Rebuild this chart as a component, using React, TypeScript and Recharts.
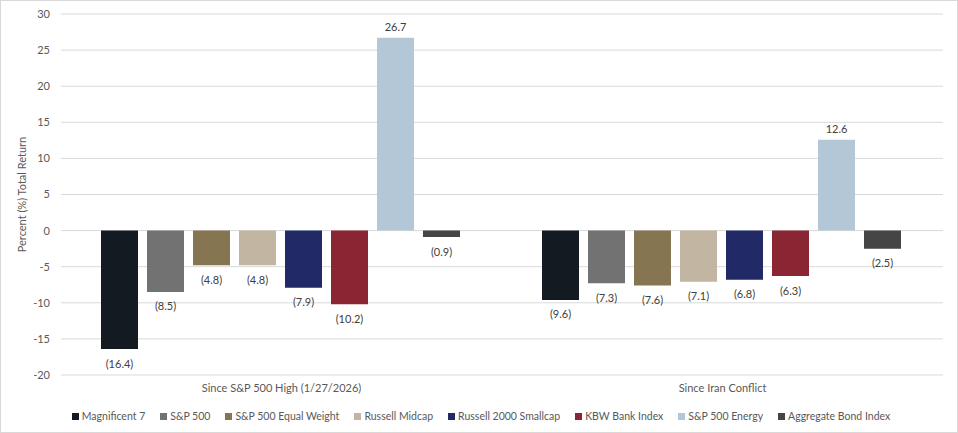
import React from 'react';
import { BarChart, Bar, XAxis, YAxis, CartesianGrid, Legend, LabelList } from 'recharts';

const periods = ['Since S&P 500 High (1/27/2026)', 'Since Iran Conflict'];
const seriesNames = [
  'Magnificent 7',
  'S&P 500',
  'S&P 500 Equal Weight',
  'Russell Midcap',
  'Russell 2000 Smallcap',
  'KBW Bank Index',
  'S&P 500 Energy',
  'Aggregate Bond Index',
];
const seriesColors = ['#131A22', '#717271', '#857550', '#C2B6A3', '#212A66', '#8A2533', '#B4C7D6', '#444545'];
const magnificent7 = [-16.4, -9.6];
const sp500 = [-8.5, -7.3];
const sp500EqualWeight = [-4.8, -7.6];
const russellMidcap = [-4.8, -7.1];
const russell2000 = [-7.9, -6.8];
const kbwBank = [-10.2, -6.3];
const sp500Energy = [26.7, 12.6];
const aggregateBond = [-0.9, -2.5];
const yTicks = [-20, -15, -10, -5, 0, 5, 10, 15, 20, 25, 30];

const seriesValues = [magnificent7, sp500, sp500EqualWeight, russellMidcap, russell2000, kbwBank, sp500Energy, aggregateBond];
const keys = seriesNames.map((_, i) => `s${i}`);

const data = periods.map((period, p) => {
  const row: Record<string, string | number> = { period };
  seriesValues.forEach((vals, i) => {
    row[keys[i]] = vals[p];
  });
  return row;
});

const FONT = 'Lato, "Open Sans", sans-serif';
const TEXT = '#595959';

const fmt = (v: number) => (v < 0 ? `(${Math.abs(v).toFixed(1)})` : v.toFixed(1));

const ValueLabel = (props: any) => {
  const { x, y, width, height, value } = props;
  const top = Math.min(y, y + height);
  const bottom = Math.max(y, y + height);
  const cy = value < 0 ? bottom + 14 : top - 11;
  return (
    <text x={x + width / 2} y={cy} textAnchor="middle" dominantBaseline="central" fill="#404040" fontSize={11} fontFamily={FONT}>
      {fmt(value)}
    </text>
  );
};

const LegendContent = () => (
  <div style={{ display: 'flex', justifyContent: 'center', gap: 15, paddingLeft: 18, fontFamily: FONT, fontSize: 10.5, color: TEXT }}>
    {seriesNames.map((name, i) => (
      <div key={name} style={{ display: 'flex', alignItems: 'center' }}>
        <span style={{ width: 7, height: 7, background: seriesColors[i], marginRight: 3, display: 'inline-block' }} />
        <span>{name}</span>
      </div>
    ))}
  </div>
);

export default function App() {
  return (
    <div style={{ position: 'absolute', left: 0, top: 0, width: 958, height: 433, boxSizing: 'border-box', border: '1px solid #d9d9d9', background: '#fff' }}>
      <BarChart
        width={956}
        height={431}
        data={data}
        margin={{ top: 13, right: 14, bottom: 10, left: 0 }}
        barCategoryGap={40}
        barGap={9}
      >
        <CartesianGrid vertical={false} stroke="#d9d9d9" />
        <XAxis
          dataKey="period"
          axisLine={false}
          tickLine={false}
          tickSize={0}
          tickMargin={9}
          height={26}
          tick={{ fill: TEXT, fontSize: 11, fontFamily: FONT }}
        />
        <YAxis
          width={60}
          domain={[-20, 30]}
          ticks={yTicks}
          axisLine={false}
          tickLine={false}
          tickSize={0}
          tickMargin={11}
          tick={{ fill: TEXT, fontSize: 11, fontFamily: FONT }}
          label={{
            value: 'Percent (%) Total Return',
            angle: -90,
            position: 'insideLeft',
            offset: 21,
            style: { textAnchor: 'middle', fill: TEXT, fontSize: 11, fontFamily: FONT },
          }}
        />
        <Legend verticalAlign="bottom" content={<LegendContent />} wrapperStyle={{ paddingTop: 9 }} />
        {keys.map((k, i) => (
          <Bar key={k} dataKey={k} name={seriesNames[i]} fill={seriesColors[i]} isAnimationActive={false}>
            <LabelList dataKey={k} content={<ValueLabel />} />
          </Bar>
        ))}
      </BarChart>
    </div>
  );
}
